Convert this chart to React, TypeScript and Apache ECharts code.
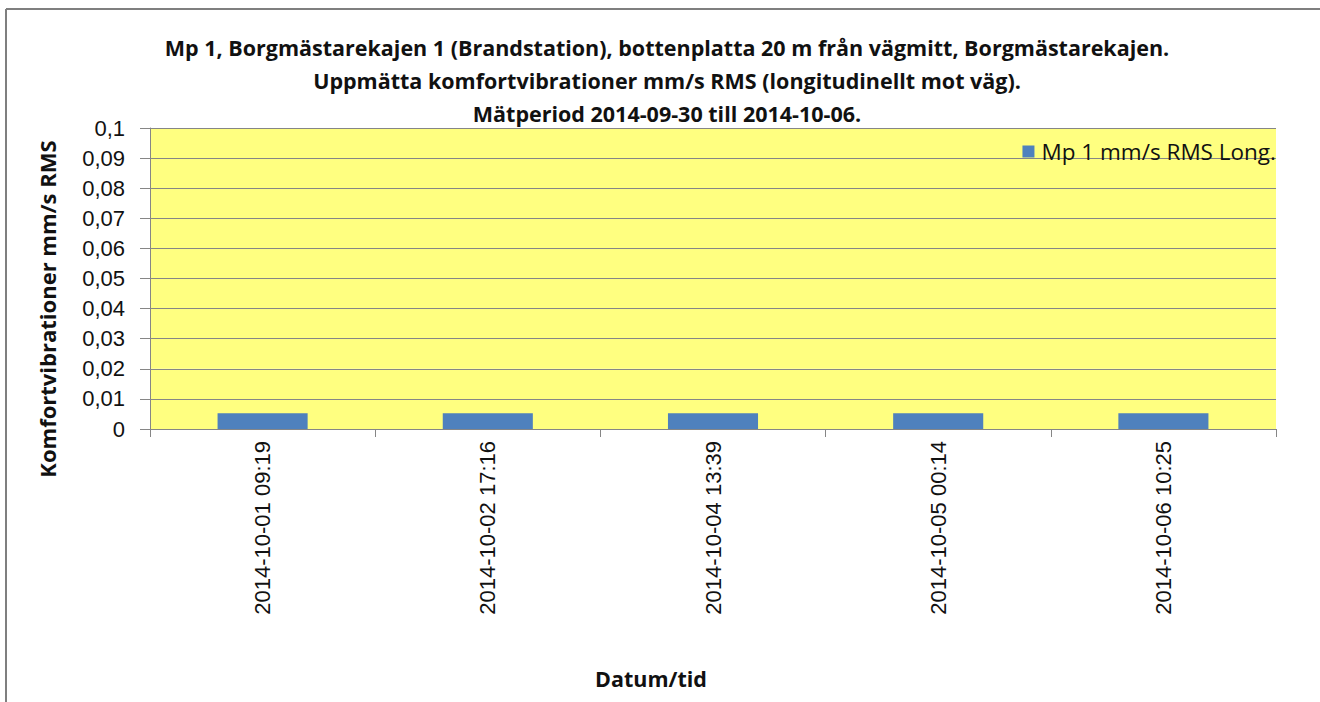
import React, { useEffect, useRef } from "react";
import * as echarts from "echarts";

const titleLines = [
  "Mp 1, Borgmästarekajen 1 (Brandstation), bottenplatta 20 m från vägmitt, Borgmästarekajen.",
  "Uppmätta komfortvibrationer mm/s RMS (longitudinellt mot väg).",
  "Mätperiod 2014-09-30 till 2014-10-06.",
];
const categories = [
  "2014-10-01 09:19",
  "2014-10-02 17:16",
  "2014-10-04 13:39",
  "2014-10-05 00:14",
  "2014-10-06 10:25",
];
const seriesName = "Mp 1 mm/s RMS Long.";
const values = [0.0052, 0.0052, 0.0052, 0.0052, 0.0052];
const yAxisName = "Komfortvibrationer mm/s RMS";
const xAxisName = "Datum/tid";

export default function App() {
  const ref = useRef<HTMLDivElement>(null);
  useEffect(() => {
    const chart = echarts.init(ref.current!, null, { renderer: "svg" });
    const bold = "Open Sans";
    chart.setOption({
      animation: false,
      backgroundColor: "#ffffff",
      title: {
        text: titleLines.join("\n"),
        left: 662,
        top: 26,
        textAlign: "center",
        textStyle: {
          fontFamily: bold,
          fontWeight: "bold",
          fontSize: 21.5,
          lineHeight: 33,
          color: "#111111",
        },
      },
      legend: {
        data: [seriesName],
        right: 39,
        top: 135,
        itemWidth: 12,
        itemHeight: 12,
        itemGap: 6,
        icon: "rect",
        textStyle: { fontFamily: "Open Sans", fontSize: 22.5, color: "#111111", padding: [0, 0, 0, 2] },
      },
      grid: { left: 150, right: 44, top: 128, height: 301, containLabel: false },
      xAxis: {
        type: "category",
        data: categories,
        axisLine: { lineStyle: { color: "#868686", width: 1 } },
        axisTick: { show: true, length: 8, lineStyle: { color: "#868686" } },
        axisLabel: {
          rotate: 90,
          fontFamily: "Liberation Sans",
          fontSize: 22,
          color: "#111111",
          margin: 12,
        },
        splitLine: { show: false },
      },
      yAxis: {
        type: "value",
        min: 0,
        max: 0.1,
        interval: 0.01,
        axisLine: { show: true, lineStyle: { color: "#868686" } },
        axisTick: { show: true, length: 10, lineStyle: { color: "#868686" } },
        axisLabel: {
          fontFamily: "Liberation Sans",
          fontSize: 22,
          color: "#111111",
          margin: 25,
          formatter: (v: number) => String(+v.toFixed(2)).replace(".", ","),
        },
        splitLine: { show: true, lineStyle: { color: "#868686", width: 1 } },
        splitArea: { show: true, areaStyle: { color: ["#FFFF80", "#FFFF80"] } },
      },
      series: [
        {
          name: seriesName,
          type: "bar",
          data: values,
          barWidth: "40%",
          itemStyle: { color: "#4F81BD" },
        },
      ],
      graphic: [
        {
          type: "text",
          x: 47,
          y: 309,
          rotation: Math.PI / 2,
          style: {
            text: yAxisName,
            fontFamily: bold,
            fontWeight: "bold",
            fontSize: 22,
            fill: "#111111",
            align: "center",
            verticalAlign: "middle",
          },
        },
        {
          type: "text",
          x: 651,
          y: 678,
          style: {
            text: xAxisName,
            fontFamily: bold,
            fontWeight: "bold",
            fontSize: 21.5,
            fill: "#111111",
            align: "center",
            verticalAlign: "middle",
          },
        },
        {
          type: "line",
          shape: { x1: 6, y1: 9, x2: 1320, y2: 9 },
          style: { stroke: "#7f7f7f", lineWidth: 2 },
        },
        {
          type: "line",
          shape: { x1: 6, y1: 9, x2: 6, y2: 702 },
          style: { stroke: "#7f7f7f", lineWidth: 2 },
        },
      ],
    });
    return () => chart.dispose();
  }, []);
  return (
    <div
      ref={ref}
      style={{ position: "fixed", left: 0, top: 0, width: 1320, height: 702 }}
    />
  );
}
